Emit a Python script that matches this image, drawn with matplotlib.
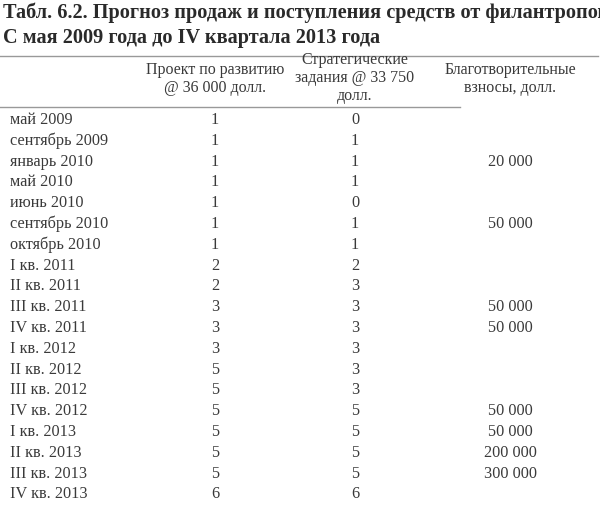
import matplotlib.pyplot as plt

periods = ['май 2009', 'сентябрь 2009', 'январь 2010', 'май 2010', 'июнь 2010',
           'сентябрь 2010', 'октябрь 2010', 'I кв. 2011', 'II кв. 2011', 'III кв. 2011',
           'IV кв. 2011', 'I кв. 2012', 'II кв. 2012', 'III кв. 2012', 'IV кв. 2012',
           'I кв. 2013', 'II кв. 2013', 'III кв. 2013', 'IV кв. 2013']
project = [1, 1, 1, 1, 1, 1, 1, 2, 2, 3, 3, 3, 5, 5, 5, 5, 5, 5, 6]
strategic = [0, 1, 1, 1, 0, 1, 1, 2, 3, 3, 3, 3, 3, 3, 5, 5, 5, 5, 6]
donations = ['', '', '20 000', '', '', '50 000', '', '', '', '50 000', '50 000',
             '', '', '', '50 000', '50 000', '200 000', '300 000', '']
headers = ['Проект по развитию\n@ 36 000 долл.',
           'Стратегические\nзадания @ 33 750\nдолл.',
           'Благотворительные\nвзносы, долл.']

W, H = 600, 506
fig = plt.figure(figsize=(6, 5.06), dpi=100)
ax = fig.add_axes([0, 0, 1, 1])
ax.set_xlim(0, W)
ax.set_ylim(H, 0)
ax.axis('off')
font = 'Liberation Serif'
col = '#3a3a3a'

ax.text(3, 13, 'Табл. 6.2. Прогноз продаж и поступления средств от филантропов.',
        fontsize=14.6, family=font, color='#2a2a2a', va='center', ha='left',
        fontweight='bold')
ax.text(3, 38, 'С мая 2009 года до IV квартала 2013 года',
        fontsize=14.6, family=font, color='#2a2a2a', va='center', ha='left',
        fontweight='bold')
ax.plot([0, 598], [57, 57], color='#999999', lw=1)
ax.plot([0, 460], [108, 108], color='#999999', lw=1)

col_x = [215, 355, 510]
for x, h, y in zip(col_x, headers, [79, 78, 79]):
    ax.text(x, y, h, fontsize=11.5, family=font, color=col, ha='center', va='center',
            linespacing=1.15)

y0, dy = 120, 20.8
for i, p in enumerate(periods):
    y = y0 + i * dy
    ax.text(10, y, p, fontsize=11.7, family=font, color=col, va='center')
    ax.text(col_x[0], y, str(project[i]), fontsize=11.7, family=font, color=col,
            ha='center', va='center')
    ax.text(col_x[1], y, str(strategic[i]), fontsize=11.7, family=font, color=col,
            ha='center', va='center')
    ax.text(col_x[2], y, donations[i], fontsize=11.7, family=font, color=col,
            ha='center', va='center')

fig.savefig('out.png', dpi=100, facecolor='white')
